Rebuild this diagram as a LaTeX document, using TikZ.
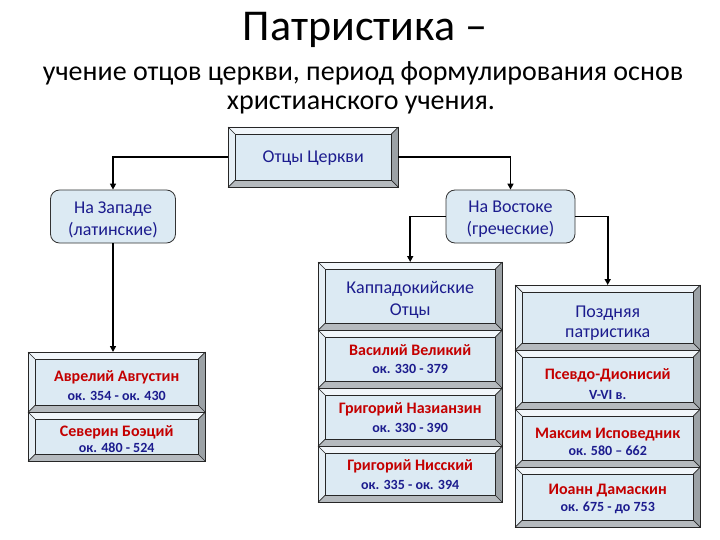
\documentclass[tikz,border=0pt]{standalone}
\usepackage{fontspec}
\setmainfont{Carlito}
\usetikzlibrary{arrows.meta}
\definecolor{boxfill}{HTML}{DCEAF3}
\definecolor{bvtop}{HTML}{F1F6FA}
\definecolor{bvleft}{HTML}{E6EFF5}
\definecolor{bvright}{HTML}{9CA2A6}
\definecolor{bvbottom}{HTML}{B5BABE}
\definecolor{navy}{HTML}{1C1C8E}
\definecolor{redname}{HTML}{C40000}
\newcommand\bvw{7}
\newcommand\bevelfaces[1]{%
  \fill[bvtop] (#1.north west) -- (#1.north east) -- ([shift={(-\bvw,\bvw)}]#1.north east) -- ([shift={(\bvw,\bvw)}]#1.north west) -- cycle;
  \fill[bvleft] (#1.north west) -- ([shift={(\bvw,\bvw)}]#1.north west) -- ([shift={(\bvw,-\bvw)}]#1.south west) -- (#1.south west) -- cycle;
  \fill[bvright] (#1.north east) -- ([shift={(-\bvw,\bvw)}]#1.north east) -- ([shift={(-\bvw,-\bvw)}]#1.south east) -- (#1.south east) -- cycle;
  \fill[bvbottom] (#1.south west) -- ([shift={(\bvw,-\bvw)}]#1.south west) -- ([shift={(-\bvw,-\bvw)}]#1.south east) -- (#1.south east) -- cycle;
  \draw[bvline] (#1.north west) rectangle (#1.south east);
  \draw[bvline] ([shift={(\bvw,\bvw)}]#1.north west) rectangle ([shift={(-\bvw,-\bvw)}]#1.south east);
  \draw[bvline] (#1.north west) -- ([shift={(\bvw,\bvw)}]#1.north west);
  \draw[bvline] (#1.north east) -- ([shift={(-\bvw,\bvw)}]#1.north east);
  \draw[bvline] (#1.south west) -- ([shift={(\bvw,-\bvw)}]#1.south west);
  \draw[bvline] (#1.south east) -- ([shift={(-\bvw,-\bvw)}]#1.south east);
}
\newcommand\nm{\fontsize{16}{19}\selectfont\bfseries\color{redname}}
\newcommand\dt{\fontsize{14}{19}\selectfont\bfseries\color{navy}}
\tikzset{
  bvline/.style={draw=black!85, line width=0.7pt},
  bevbox/.style={rectangle, fill=boxfill, inner sep=0pt, align=center, anchor=north west},
  roundbox/.style={rectangle, rounded corners=9pt, fill=boxfill, draw=black!80, line width=0.8pt, align=center, inner sep=0pt,
     font=\fontsize{18}{22}\selectfont, text=navy},
  conn/.style={line width=1.8pt, -{Triangle[length=6pt,width=6pt]}},
  title/.style={font=\fontsize{44}{48}\selectfont},
  subtitle/.style={font=\fontsize{28}{32}\selectfont},
  boxtext/.style={font=\fontsize{18}{22}\selectfont, text=navy}
}
\begin{document}
\begin{tikzpicture}[x=1pt,y=-1pt]
\useasboundingbox (0,0) rectangle (720,540);
\fill[white] (0,0) rectangle (720,540);

\node[title] (t1) at (365,30) {Патристика –};
\node[subtitle] (t2) at (363,73) {учение отцов церкви, период формулирования основ};
\node[subtitle] (t3) at (361,105) {христианского учения.};

% top box
\node[bevbox, minimum width=170pt, minimum height=60pt] (otcy) at (228,127) {};
\bevelfaces{otcy}
\node[boxtext] (otcyt) at ([yshift=-1pt]otcy.center) {Отцы Церкви};

% rounded boxes
\node[roundbox, minimum width=125pt, minimum height=53pt] (zapad) at (113,216.5) {};
\node[roundbox, minimum width=129pt, minimum height=53pt] (vost) at (510.5,216.5) {};
\node[boxtext, align=center] (zapadt) at ([yshift=-3pt]zapad.center) {На Западе\\(латинские)};
\node[boxtext, align=center] (vostt) at ([yshift=-3pt]vost.center) {На Востоке\\(греческие)};

% left column
\node[bevbox, minimum width=177pt, minimum height=60pt] (avg) at (28,352) {};
\node[bevbox, minimum width=177pt, minimum height=49pt] (sev) at (28,412) {};
% middle column
\node[bevbox, minimum width=184pt, minimum height=68pt] (kapp) at (318,262) {};
\node[bevbox, minimum width=184pt, minimum height=58pt] (vas) at (318,330) {};
\node[bevbox, minimum width=184pt, minimum height=58pt] (naz) at (318,388) {};
\node[bevbox, minimum width=184pt, minimum height=56pt] (nis) at (318,446) {};
% right column
\node[bevbox, minimum width=185pt, minimum height=65pt] (pozd) at (515,285) {};
\node[bevbox, minimum width=185pt, minimum height=59pt] (psev) at (515,350) {};
\node[bevbox, minimum width=185pt, minimum height=58pt] (maks) at (515,409) {};
\node[bevbox, minimum width=185pt, minimum height=60pt] (ioann) at (515,467) {};

\bevelfaces{avg}
\bevelfaces{sev}
\bevelfaces{kapp}
\bevelfaces{vas}
\bevelfaces{naz}
\bevelfaces{nis}
\bevelfaces{pozd}
\bevelfaces{psev}
\bevelfaces{maks}
\bevelfaces{ioann}

\node[align=center] (avgt) at ([yshift=-3.5pt]avg.center) {\nm Аврелий Августин\\[7pt]\dt ок. 354 - ок. 430};
\node[align=center] (sevt) at ([yshift=-2.5pt]sev.center) {\nm Северин Боэций\\[3pt]\dt ок. 480 - 524};
\node[boxtext, align=center] (kappt) at ([yshift=-4pt]kapp.center) {Каппадокийские\\Отцы};
\node[align=center] (vast) at ([yshift=0pt]vas.center) {\nm Василий Великий\\[6pt]\dt ок. 330 - 379};
\node[align=center] (nazt) at ([yshift=-0.5pt]naz.center) {\nm Григорий Назианзин\\[7pt]\dt ок. 330 - 390};
\node[align=center] (nist) at ([yshift=0pt]nis.center) {\nm Григорий Нисский\\[7pt]\dt ок. 335 - ок. 394};
\node[align=center, font=\fontsize{18}{20}\selectfont, text=navy] (pozdt) at ([yshift=-5pt]pozd.center) {Поздняя\\патристика};
\node[align=center] (psevt) at ([yshift=-4.5pt]psev.center) {\nm Псевдо-Дионисий\\[8pt]\dt V-VI в.};
\node[align=center] (makst) at ([yshift=-3.5pt]maks.center) {\nm Максим Исповедник\\[4pt]\dt ок. 580 – 662};
\node[align=center] (ioannt) at ([yshift=-2pt]ioann.center) {\nm Иоанн Дамаскин\\[4pt]\dt ок. 675 - до 753};

% connectors
\draw[conn] (otcy.west) -| (zapad.north);
\draw[conn] (otcy.east) -| (vost.north);
\draw[conn] (zapad.south) -- (zapad.south |- avg.north);
\draw[conn] (vost.west) -| (kapp.north);
\draw[conn] (vost.east) -| (pozd.north);
\end{tikzpicture}
\end{document}
